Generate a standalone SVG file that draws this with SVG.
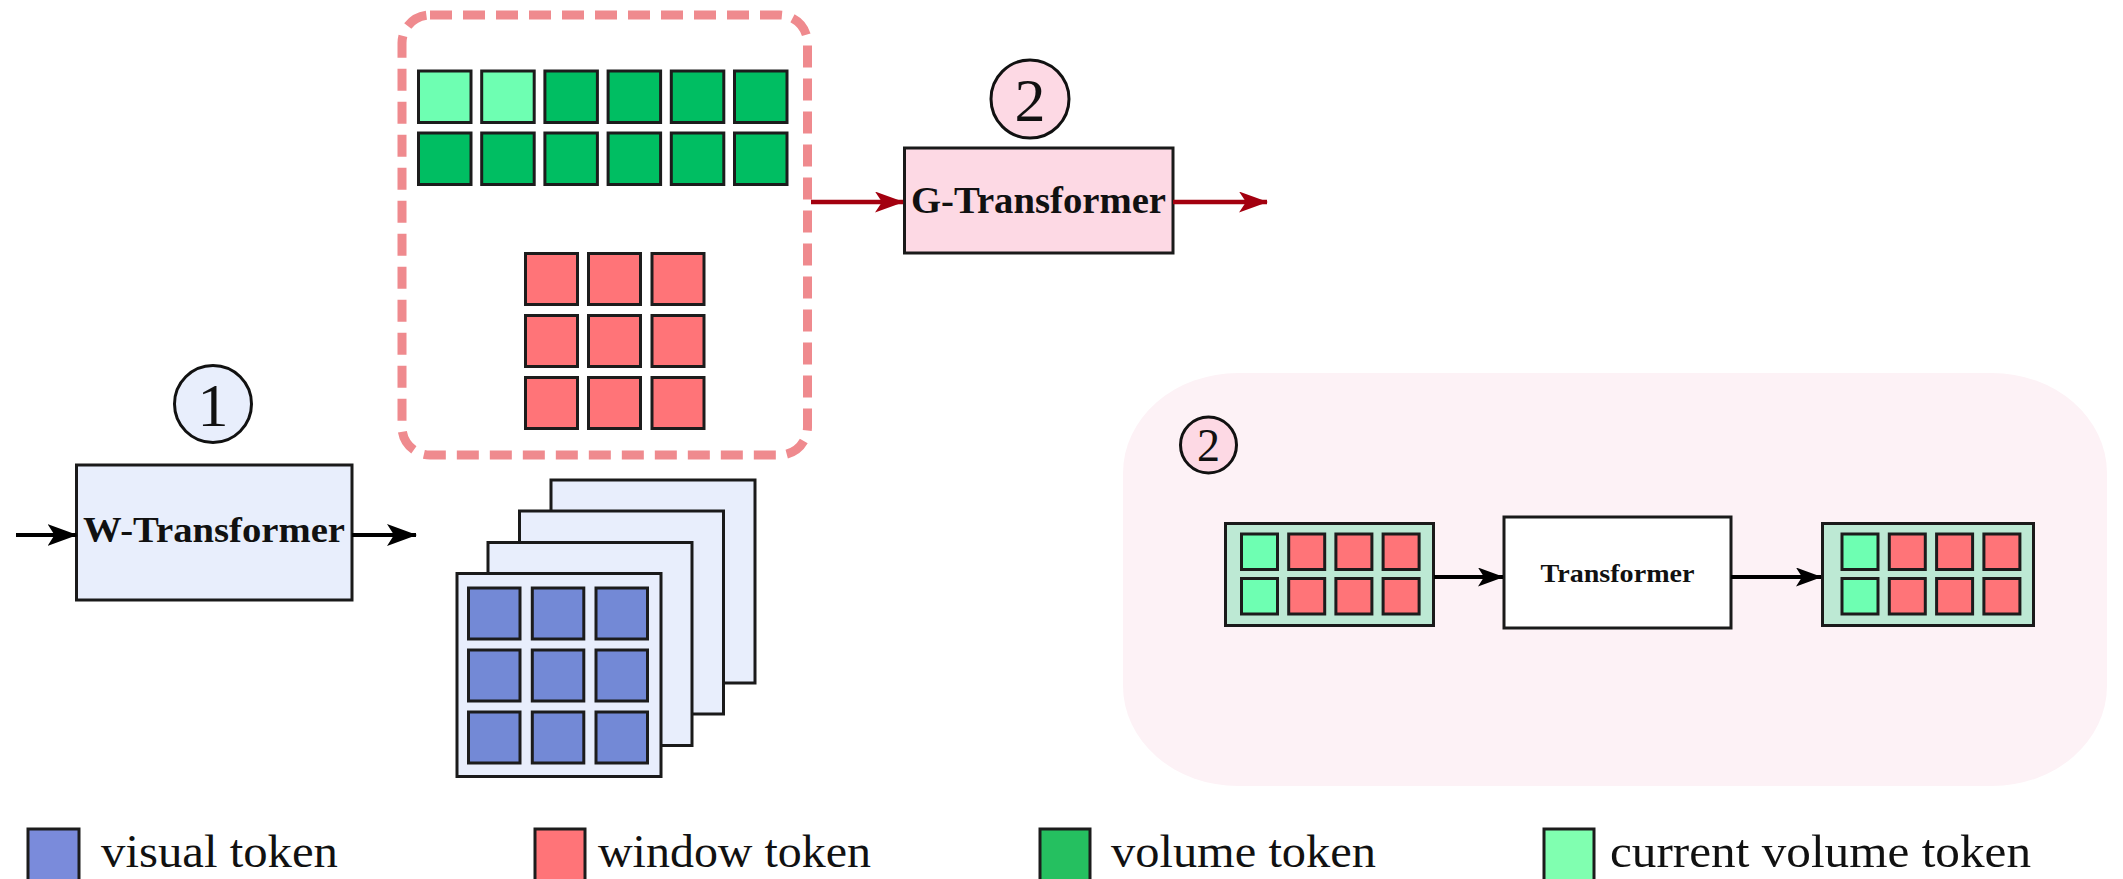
<svg xmlns="http://www.w3.org/2000/svg" width="2123" height="879" viewBox="0 0 2123 879">
  <defs>
    <style>
      .tok { stroke: #1c1c1c; stroke-width: 3; }
      .vis { fill: #7389d6; }
      .win { fill: #ff7478; }
      .vol { fill: #00be62; }
      .cur { fill: #6effb2; }
      .frame { fill: #e8eefc; stroke: #1a1a1a; stroke-width: 3; }
      .box { stroke: #1a1a1a; stroke-width: 3; }
      .lbl { font-family: "Liberation Serif", "DejaVu Serif", serif; fill: #111; }
      .bold { font-weight: bold; }
      .legend { font-family: "Liberation Serif", "DejaVu Serif", serif; font-size: 47px; fill: #111; }
      .blk { stroke: #000; stroke-width: 4; fill: none; }
      .red { stroke: #a3000f; stroke-width: 4.5; fill: none; }
    </style>
    <marker id="headBlack" markerUnits="userSpaceOnUse" viewBox="0 0 30 22" refX="29" refY="11" markerWidth="30" markerHeight="22" orient="auto">
      <path d="M0,0 L30,11 L0,22 L7,11 Z" fill="#000"/>
    </marker>
    <marker id="headBlackSmall" markerUnits="userSpaceOnUse" viewBox="0 0 26 19" refX="25" refY="9.5" markerWidth="26" markerHeight="19" orient="auto">
      <path d="M0,0 L26,9.5 L0,19 L6,9.5 Z" fill="#000"/>
    </marker>
    <marker id="headRed" markerUnits="userSpaceOnUse" viewBox="0 0 29 21" refX="28" refY="10.5" markerWidth="29" markerHeight="21" orient="auto">
      <path d="M0,0 L29,10.5 L0,21 L7,10.5 Z" fill="#a3000f"/>
    </marker>
  </defs>

  <rect width="2123" height="879" fill="#ffffff"/>

  <!-- inset panel background -->
  <g id="detail-panel">
    <rect x="1123" y="373" width="984" height="413" rx="115" ry="100" fill="#fdf2f6"/>
  </g>

  <!-- token set feeding the global transformer -->
  <g id="token-group">
    <rect x="402" y="15" width="405.5" height="440" rx="28" ry="28" fill="none" stroke="#ef8a8e" stroke-width="9" stroke-dasharray="22 11"/>
    <g class="tok">
      <rect class="cur" x="418.5" y="71" width="52.5" height="51.5"/>
      <rect class="cur" x="481.7" y="71" width="52.5" height="51.5"/>
      <rect class="vol" x="544.9" y="71" width="52.5" height="51.5"/>
      <rect class="vol" x="608.1" y="71" width="52.5" height="51.5"/>
      <rect class="vol" x="671.3" y="71" width="52.5" height="51.5"/>
      <rect class="vol" x="734.5" y="71" width="52.5" height="51.5"/>
      <rect class="vol" x="418.5" y="133" width="52.5" height="51.5"/>
      <rect class="vol" x="481.7" y="133" width="52.5" height="51.5"/>
      <rect class="vol" x="544.9" y="133" width="52.5" height="51.5"/>
      <rect class="vol" x="608.1" y="133" width="52.5" height="51.5"/>
      <rect class="vol" x="671.3" y="133" width="52.5" height="51.5"/>
      <rect class="vol" x="734.5" y="133" width="52.5" height="51.5"/>
      <rect class="win" x="525.5" y="253.5" width="52" height="51"/>
      <rect class="win" x="588.5" y="253.5" width="52" height="51"/>
      <rect class="win" x="652" y="253.5" width="52" height="51"/>
      <rect class="win" x="525.5" y="315.5" width="52" height="51"/>
      <rect class="win" x="588.5" y="315.5" width="52" height="51"/>
      <rect class="win" x="652" y="315.5" width="52" height="51"/>
      <rect class="win" x="525.5" y="377.5" width="52" height="51"/>
      <rect class="win" x="588.5" y="377.5" width="52" height="51"/>
      <rect class="win" x="652" y="377.5" width="52" height="51"/>
    </g>
  </g>

  <!-- step 1: window transformer -->
  <g id="step1-badge">
    <circle cx="213" cy="404" r="38.5" fill="#e8eefc" stroke="#111" stroke-width="3"/>
    <text class="lbl" x="213" y="426" font-size="62" text-anchor="middle">1</text>
  </g>
  <g id="w-transformer">
    <rect class="box" x="76.5" y="465" width="275.5" height="135" fill="#e8eefc"/>
    <text class="lbl bold" x="214" y="542" font-size="36" text-anchor="middle" textLength="262" lengthAdjust="spacingAndGlyphs">W-Transformer</text>
  </g>

  <!-- stacked visual token maps -->
  <g id="visual-stack">
    <rect class="frame" x="551" y="480" width="204" height="203"/>
    <rect class="frame" x="519.5" y="511" width="204" height="203"/>
    <rect class="frame" x="488" y="542.5" width="204" height="203"/>
    <rect class="frame" x="457" y="573.5" width="204" height="203"/>
    <g class="tok">
      <rect class="vis" x="468.5" y="588" width="51.5" height="51"/>
      <rect class="vis" x="532.3" y="588" width="51.5" height="51"/>
      <rect class="vis" x="596" y="588" width="51.5" height="51"/>
      <rect class="vis" x="468.5" y="650" width="51.5" height="51"/>
      <rect class="vis" x="532.3" y="650" width="51.5" height="51"/>
      <rect class="vis" x="596" y="650" width="51.5" height="51"/>
      <rect class="vis" x="468.5" y="712" width="51.5" height="51"/>
      <rect class="vis" x="532.3" y="712" width="51.5" height="51"/>
      <rect class="vis" x="596" y="712" width="51.5" height="51"/>
    </g>
  </g>

  <!-- step 2: global transformer -->
  <g id="step2-badge">
    <circle cx="1030" cy="99" r="39" fill="#fdd9e4" stroke="#111" stroke-width="3"/>
    <text class="lbl" x="1030" y="121" font-size="62" text-anchor="middle">2</text>
  </g>
  <g id="g-transformer">
    <rect class="box" x="904.5" y="148" width="268.5" height="105" fill="#fdd9e4"/>
    <text class="lbl bold" x="1038.5" y="213" font-size="38" text-anchor="middle" textLength="255" lengthAdjust="spacingAndGlyphs">G-Transformer</text>
  </g>

  <!-- detail of step 2 -->
  <g id="detail-badge">
    <circle cx="1208.5" cy="445" r="28" fill="#fdd9e4" stroke="#111" stroke-width="3"/>
    <text class="lbl" x="1208.5" y="461" font-size="46" text-anchor="middle">2</text>
  </g>
  <g id="input-tokens">
    <rect class="box" x="1225.5" y="523.5" width="208" height="102" fill="#bde9d4"/>
    <g class="tok">
      <rect class="cur" x="1241.5" y="534" width="36" height="35.5"/>
      <rect class="win" x="1288.7" y="534" width="36" height="35.5"/>
      <rect class="win" x="1335.9" y="534" width="36" height="35.5"/>
      <rect class="win" x="1383.1" y="534" width="36" height="35.5"/>
      <rect class="cur" x="1241.5" y="578.5" width="36" height="35.5"/>
      <rect class="win" x="1288.7" y="578.5" width="36" height="35.5"/>
      <rect class="win" x="1335.9" y="578.5" width="36" height="35.5"/>
      <rect class="win" x="1383.1" y="578.5" width="36" height="35.5"/>
    </g>
  </g>
  <g id="transformer">
    <rect class="box" x="1504" y="517" width="227" height="111" fill="#ffffff"/>
    <text class="lbl bold" x="1617.5" y="582" font-size="25" text-anchor="middle" textLength="154" lengthAdjust="spacingAndGlyphs">Transformer</text>
  </g>
  <g id="output-tokens">
    <rect class="box" x="1822.5" y="523.5" width="211" height="102" fill="#bde9d4"/>
    <g class="tok">
      <rect class="cur" x="1842" y="534" width="36" height="35.5"/>
      <rect class="win" x="1889.3" y="534" width="36" height="35.5"/>
      <rect class="win" x="1936.6" y="534" width="36" height="35.5"/>
      <rect class="win" x="1983.9" y="534" width="36" height="35.5"/>
      <rect class="cur" x="1842" y="578.5" width="36" height="35.5"/>
      <rect class="win" x="1889.3" y="578.5" width="36" height="35.5"/>
      <rect class="win" x="1936.6" y="578.5" width="36" height="35.5"/>
      <rect class="win" x="1983.9" y="578.5" width="36" height="35.5"/>
    </g>
  </g>

  <!-- connectors -->
  <g id="connectors">
    <line class="blk" x1="16" y1="535" x2="76.5" y2="535" marker-end="url(#headBlack)"/>
    <line class="blk" x1="352" y1="535" x2="416" y2="535" marker-end="url(#headBlack)"/>
    <line class="red" x1="811" y1="202" x2="903" y2="202" marker-end="url(#headRed)"/>
    <line class="red" x1="1173" y1="202" x2="1267" y2="202" marker-end="url(#headRed)"/>
    <line class="blk" x1="1434" y1="577" x2="1503" y2="577" marker-end="url(#headBlackSmall)"/>
    <line class="blk" x1="1731" y1="577" x2="1821" y2="577" marker-end="url(#headBlackSmall)"/>
  </g>

  <!-- legend -->
  <g id="legend">
    <rect class="tok" x="28" y="829" width="51" height="62" fill="#7a8bdb"/>
    <text class="legend" x="101" y="867" textLength="237" lengthAdjust="spacingAndGlyphs">visual token</text>
    <rect class="tok" x="535" y="829" width="50" height="62" fill="#ff7478"/>
    <text class="legend" x="598" y="867" textLength="273" lengthAdjust="spacingAndGlyphs">window token</text>
    <rect class="tok" x="1040" y="829" width="50" height="62" fill="#25c060"/>
    <text class="legend" x="1111" y="867" textLength="265" lengthAdjust="spacingAndGlyphs">volume token</text>
    <rect class="tok" x="1544" y="829" width="50" height="62" fill="#80ffb0"/>
    <text class="legend" x="1610" y="867" textLength="421" lengthAdjust="spacingAndGlyphs">current volume token</text>
  </g>
</svg>
